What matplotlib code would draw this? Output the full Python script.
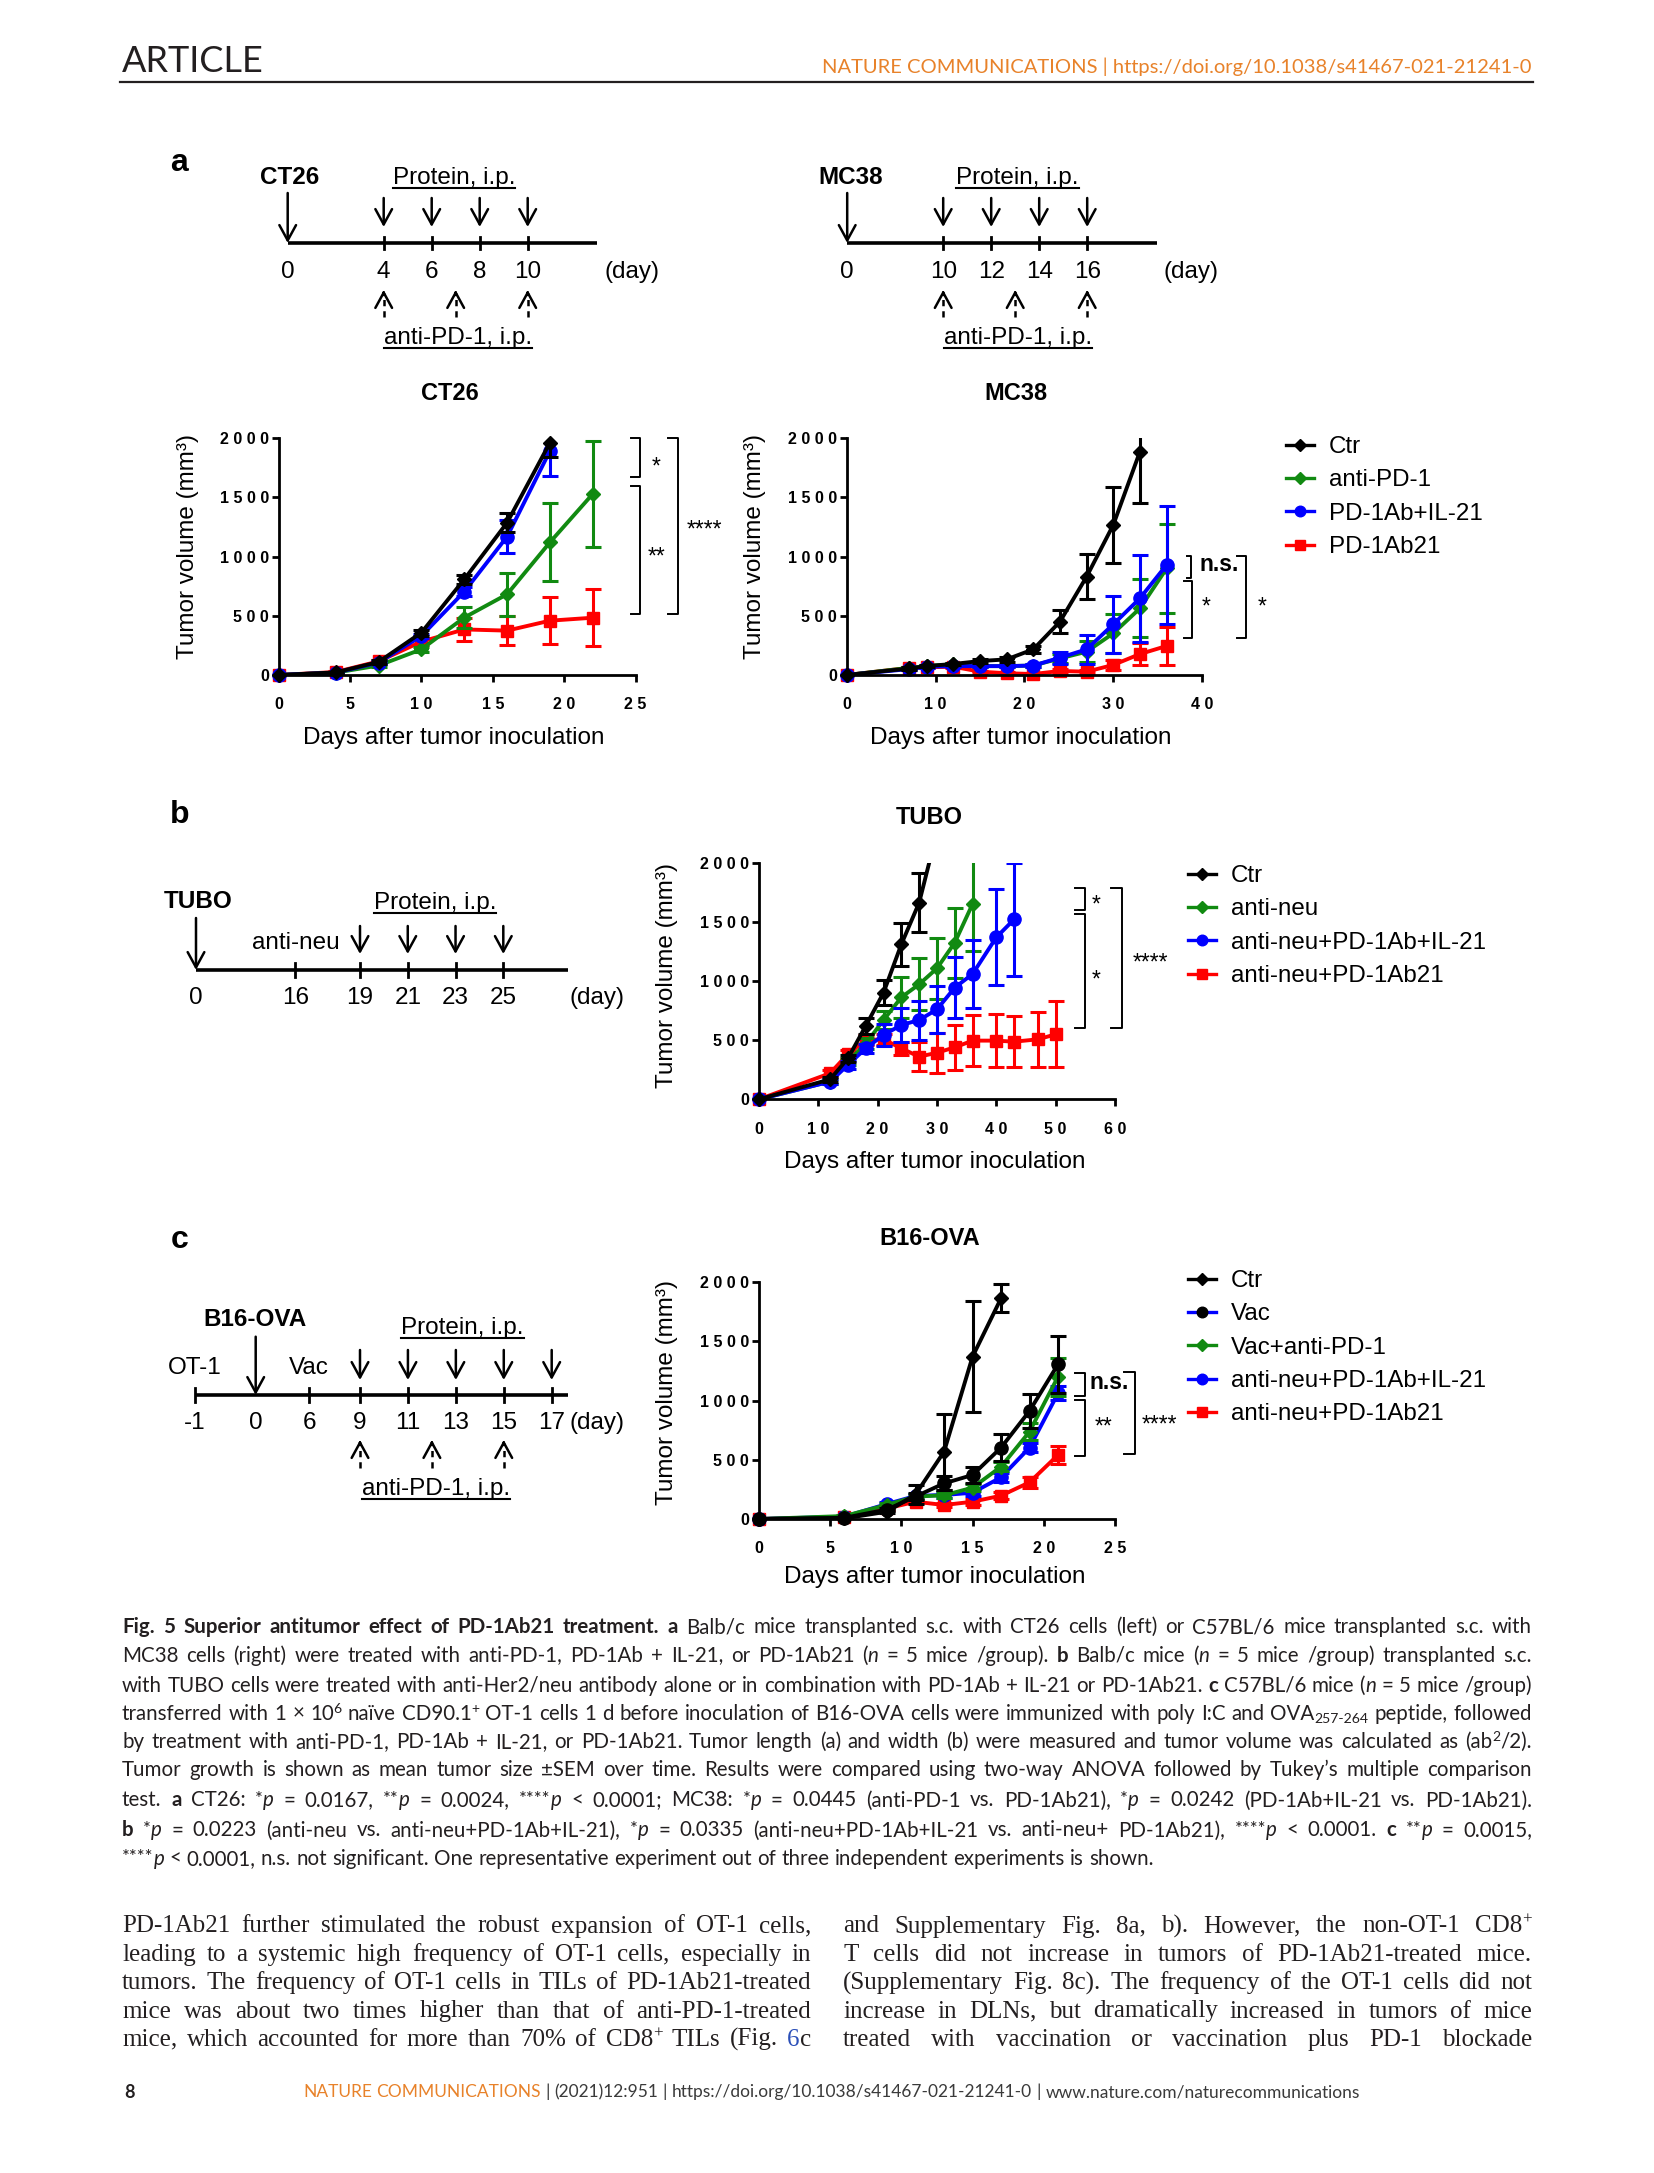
import matplotlib
matplotlib.use('Agg')
import matplotlib.pyplot as plt
from matplotlib.lines import Line2D
from matplotlib.ticker import FuncFormatter
import numpy as np

W, H = 1654, 2173
SANS = ['Liberation Sans', 'DejaVu Sans']
CAPTION = ['Lato', 'DejaVu Sans']
SERIF = ['Liberation Serif', 'DejaVu Serif']
plt.rcParams['font.family'] = SANS

BLACK, GREEN, BLUE, RED = 'black', '#118A11', '#0000FF', '#FF0000'
ORANGE = '#E8822A'
INK = '#231F20'

# ---------------- data (mean tumour volume, mm3, and SEM) ----------------
ct26_days = [0, 4, 7, 10, 13, 16, 19, 22]
ct26_ctr = [0, 22, 110, 358, 808, 1287, 1963]
ct26_ctr_sem = [0, 5, 15, 25, 40, 80, 125]
ct26_pd1 = [0, 20, 80, 217, 485, 682, 1121, 1530]
ct26_pd1_sem = [0, 5, 12, 20, 90, 180, 330, 450]
ct26_il21 = [0, 20, 105, 330, 704, 1169, 1893]
ct26_il21_sem = [0, 5, 12, 20, 40, 140, 210]
ct26_ab21 = [0, 25, 115, 282, 385, 375, 459, 484]
ct26_ab21_sem = [0, 5, 15, 25, 100, 125, 200, 240]

mc38_days = [0, 7, 9, 12, 15, 18, 21, 24, 27, 30, 33, 36]
mc38_ctr = [0, 55, 76, 93, 118, 132, 217, 451, 831, 1268, 1887]
mc38_ctr_sem = [0, 10, 10, 10, 15, 20, 30, 95, 190, 318, 430]
mc38_pd1 = [0, 60, 76, 90, 75, 75, 80, 140, 197, 352, 563, 900]
mc38_pd1_sem = [0, 10, 10, 10, 10, 10, 15, 40, 90, 165, 245, 375]
mc38_il21 = [0, 50, 70, 75, 75, 75, 80, 146, 217, 428, 648, 930]
mc38_il21_sem = [0, 10, 10, 10, 10, 10, 15, 50, 125, 240, 370, 495]
mc38_ab21 = [0, 60, 65, 70, 28, 15, 8, 34, 28, 85, 177, 245]
mc38_ab21_sem = [0, 10, 10, 10, 10, 10, 10, 15, 15, 40, 95, 160]

tubo_days = [0, 12, 15, 18, 21, 24, 27, 30, 33, 36, 40, 43, 47, 50]
tubo_ctr = [0, 169, 346, 620, 901, 1310, 1662, 2260]
tubo_ctr_sem = [0, 20, 30, 65, 105, 180, 250, 0]
tubo_neu = [0, 150, 320, 470, 670, 862, 972, 1107, 1324, 1651]
tubo_neu_sem = [0, 20, 30, 45, 75, 175, 220, 260, 295, 400]
tubo_il21 = [0, 149, 290, 431, 544, 628, 670, 760, 944, 1059, 1369, 1521]
tubo_il21_sem = [0, 20, 30, 40, 90, 145, 165, 200, 260, 285, 405, 480]
tubo_ab21 = [0, 220, 383, 501, 507, 431, 360, 394, 439, 496, 496, 487, 507, 549]
tubo_ab21_sem = [0, 25, 35, 45, 45, 55, 125, 170, 190, 215, 225, 215, 230, 280]

b16_days = [0, 6, 9, 11, 13, 15, 17, 19, 21]
b16_ctr = [0, 5, 62, 208, 569, 1372, 1865]
b16_ctr_sem = [0, 5, 15, 80, 320, 466, 120]
b16_vac = [0, 10, 80, 190, 301, 372, 603, 913, 1307]
b16_vac_sem = [0, 5, 15, 30, 60, 70, 115, 145, 240]
b16_vacpd1 = [0, 25, 120, 190, 200, 265, 442, 738, 1203]
b16_vacpd1_sem = [0, 5, 15, 25, 25, 30, 40, 70, 160]
b16_il21 = [0, 20, 127, 195, 203, 222, 352, 603, 1062]
b16_il21_sem = [0, 5, 15, 20, 25, 30, 40, 40, 60]
b16_ab21 = [0, 15, 90, 146, 118, 146, 197, 310, 541]
b16_ab21_sem = [0, 5, 10, 15, 20, 25, 30, 45, 78]

a_labels = ['Ctr', 'anti-PD-1', 'PD-1Ab+IL-21', 'PD-1Ab21']
b_labels = ['Ctr', 'anti-neu', 'anti-neu+PD-1Ab+IL-21', 'anti-neu+PD-1Ab21']
c_labels = ['Ctr', 'Vac', 'Vac+anti-PD-1', 'anti-neu+PD-1Ab+IL-21', 'anti-neu+PD-1Ab21']

# treatment schedules (days)
ct26_ticks = [0, 4, 6, 8, 10]
ct26_protein = [4, 6, 8, 10]
ct26_antipd1 = [4, 7, 10]
mc38_ticks = [0, 10, 12, 14, 16]
mc38_protein = [10, 12, 14, 16]
mc38_antipd1 = [10, 13, 16]
tubo_ticks = [0, 16, 19, 21, 23, 25]
tubo_protein = [19, 21, 23, 25]
b16_ticks = [-1, 0, 6, 9, 11, 13, 15, 17]
b16_protein = [9, 11, 13, 15, 17]
b16_antipd1 = [9, 12, 15]

# ---------------- figure / page ----------------
fig = plt.figure(figsize=(W / 100, H / 100), dpi=100, facecolor='white')
page = fig.add_axes([0, 0, 1, 1])
page.set_xlim(0, W)
page.set_ylim(H, 0)
page.axis('off')
renderer = fig.canvas.get_renderer()

FS = 17.5


def frac(ax, x, y):
    return ax.transAxes.inverted().transform(fig.transFigure.transform((x / W, 1 - y / H)))


def growth_axes(x0, x1, xmax, y0, y1, xstep):
    ax = fig.add_axes([x0 / W, 1 - y0 / H, (x1 - x0) / W, (y0 - y1) / H])
    ax.set_facecolor('none')
    ax.set_xlim(0, xmax)
    ax.set_ylim(0, 2000)
    for s in ('top', 'right'):
        ax.spines[s].set_visible(False)
    for s in ('left', 'bottom'):
        ax.spines[s].set_linewidth(2)
    ax.set_xticks(np.arange(0, xmax + 1, xstep))
    ax.set_yticks([0, 500, 1000, 1500, 2000])
    spaced = FuncFormatter(lambda v, p: ' '.join(f'{v:.0f}'))
    ax.xaxis.set_major_formatter(spaced)
    ax.yaxis.set_major_formatter(spaced)
    ax.tick_params(direction='out', length=5, width=2, labelsize=11.5)
    ax.tick_params(axis='x', pad=11)
    ax.tick_params(axis='y', pad=2)
    plt.setp(ax.get_xticklabels() + ax.get_yticklabels(), fontweight='bold')
    return ax


def labels(ax, title, tpos, xpos, ypos):
    ax.text(*frac(ax, *tpos), title, transform=ax.transAxes, ha='center', va='center',
            fontsize=17, fontweight='bold')
    ax.set_xlabel('Days after tumor inoculation', fontsize=FS, va='center')
    ax.xaxis.set_label_coords(*frac(ax, *xpos))
    ax.set_ylabel('Tumor volume (mm³)', fontsize=FS, va='center', ha='center')
    ax.yaxis.set_label_coords(*frac(ax, *ypos))


MS = {'D': 7.5, 'o': 9.5, 's': 8.5}


def draw_series(ax, days, vals, sem, color, marker, mcolor=None):
    d = days[:len(vals)]
    ax.errorbar(d, vals, yerr=sem, fmt='none', ecolor=color, elinewidth=2.2,
                capsize=5.5, capthick=2.2)
    ax.plot(d, vals, color=color, lw=2.8)
    ax.plot(d, vals, ls='none', marker=marker, ms=MS[marker], color=mcolor or color,
            markevery=[v <= 2000 for v in vals], clip_on=False)


def bracket(ax, xl, xr, ytop, ybot, label, xt, yt, ha='center', weight='normal', rise=0.58):
    ax.plot([xl, xr, xr, xl], [ytop, ytop, ybot, ybot], color='black', lw=1.4, clip_on=False)
    fs = 16.5
    ax.annotate(label, (xt, yt), xytext=(0, -rise * fs), textcoords='offset points',
                ha=ha, va='baseline', fontsize=fs, fontweight=weight, annotation_clip=False)


def legend_at(ax, entries, names, x, y):
    handles = [Line2D([0], [0], color=lc, lw=2.4, marker=m, ms=MS[m] * 0.8,
                      mfc=mc, mec=mc) for lc, m, mc in entries]
    ax.legend(handles, names, loc='upper left', bbox_to_anchor=(x / W, 1 - y / H),
              bbox_transform=fig.transFigure, frameon=False, fontsize=17.4, borderpad=0,
              borderaxespad=0, handlelength=1.17, handletextpad=0.62, labelspacing=0.47)


# ---------------- panel a: CT26 ----------------
ax = growth_axes(278.6, 635.6, 25, 675, 438.3, 5)
for vals, sem, c, m in [(ct26_ab21, ct26_ab21_sem, RED, 's'), (ct26_pd1, ct26_pd1_sem, GREEN, 'D'),
                        (ct26_il21, ct26_il21_sem, BLUE, 'o'), (ct26_ctr, ct26_ctr_sem, BLACK, 'D')]:
    draw_series(ax, ct26_days, vals, sem, c, m)
labels(ax, 'CT26', (449.7, 393), (453.9, 738.3), (187.6, 546.7))
bracket(ax, 24.65, 25.3, 2000, 1676, '*', 26.45, 1817)
bracket(ax, 24.65, 25.3, 1597, 513, '**', 26.5, 1056)
bracket(ax, 27.3, 28.0, 2000, 513, '****', 29.8, 1282)

# ---------------- panel a: MC38 ----------------
ax = growth_axes(846.8, 1202.1, 40, 675, 438.3, 10)
for vals, sem, c, m in [(mc38_ab21, mc38_ab21_sem, RED, 's'), (mc38_pd1, mc38_pd1_sem, GREEN, 'D'),
                        (mc38_il21, mc38_il21_sem, BLUE, 'o'), (mc38_ctr, mc38_ctr_sem, BLACK, 'D')]:
    draw_series(ax, mc38_days, vals, sem, c, m)
labels(ax, 'MC38', (1015.7, 393), (1021, 738.3), (755, 546.7))
bracket(ax, 38.3, 38.8, 1008, 822, 'n.s.', 39.7, 930, ha='left', weight='bold', rise=0.26)
bracket(ax, 38.0, 38.9, 794, 310, '*', 40.4, 634)
bracket(ax, 43.9, 44.9, 1008, 310, '*', 46.75, 634)
legend_at(ax, [(BLACK, 'D', BLACK), (GREEN, 'D', GREEN), (BLUE, 'o', BLUE), (RED, 's', RED)],
          a_labels, 1285.5, 436)

# ---------------- panel b: TUBO ----------------
ax = growth_axes(758.9, 1115, 60, 1099.3, 862.7, 10)
for vals, sem, c, m in [(tubo_ab21, tubo_ab21_sem, RED, 's'), (tubo_neu, tubo_neu_sem, GREEN, 'D'),
                        (tubo_il21, tubo_il21_sem, BLUE, 'o'), (tubo_ctr, tubo_ctr_sem, BLACK, 'D')]:
    draw_series(ax, tubo_days, vals, sem, c, m)
labels(ax, 'TUBO', (929, 818), (934.6, 1161.7), (666.8, 975))
bracket(ax, 53.2, 54.9, 1789, 1600, '*', 56.9, 1699)
bracket(ax, 53.2, 54.9, 1566, 600, '*', 56.9, 1065)
bracket(ax, 59.3, 61.1, 1789, 600, '****', 66.0, 1206)
legend_at(ax, [(BLACK, 'D', BLACK), (GREEN, 'D', GREEN), (BLUE, 'o', BLUE), (RED, 's', RED)],
          b_labels, 1187.5, 865)

# ---------------- panel c: B16-OVA ----------------
ax = growth_axes(758.9, 1115, 25, 1519, 1282.3, 5)
for vals, sem, c, m in [(b16_ab21, b16_ab21_sem, RED, 's'), (b16_il21, b16_il21_sem, BLUE, 'o'),
                        (b16_vacpd1, b16_vacpd1_sem, GREEN, 'D'), (b16_vac, b16_vac_sem, BLACK, 'o'),
                        (b16_ctr, b16_ctr_sem, BLACK, 'D')]:
    draw_series(ax, b16_days, vals, sem, c, m)
labels(ax, 'B16-OVA', (929.3, 1238.3), (934.6, 1576.7), (666.8, 1392.7))
bracket(ax, 22.2, 22.87, 1231, 1042, 'n.s.', 23.2, 1147, ha='left', weight='bold', rise=0.26)
bracket(ax, 22.2, 22.87, 1006, 532, '**', 24.17, 837)
bracket(ax, 25.6, 26.4, 1240, 546, '****', 28.1, 851)
legend_at(ax, [(BLACK, 'D', BLACK), (BLUE, 'o', BLACK), (GREEN, 'D', GREEN), (BLUE, 'o', BLUE),
               (RED, 's', RED)], c_labels, 1187.5, 1270)

# ---------------- treatment schematics ----------------
HEAD = dict(arrowstyle='->,head_length=0.55,head_width=0.3', lw=1.8, color='black',
            shrinkA=0, shrinkB=0, mutation_scale=20)


def arrow(x, y_tail, y_tip):
    page.annotate('', xy=(x, y_tip), xytext=(x, y_tail), arrowprops=HEAD)


def dashed_arrow(x, y_tail, y_tip):
    page.plot([x, x], [y_tail, y_tip + 3], color='black', lw=1.8, ls=(0, (2.5, 2)))
    page.annotate('', xy=(x, y_tip), xytext=(x, y_tip + 5), arrowprops=HEAD)


def underlined(x, y, s, dy=10):
    t = page.text(x, y, s, ha='center', va='center', fontsize=FS)
    bb = t.get_window_extent(renderer)
    inv = page.transData.inverted()
    x0 = inv.transform((bb.x0, bb.y0))[0]
    x1 = inv.transform((bb.x1, bb.y0))[0]
    page.plot([x0, x1], [y + dy, y + dy], color='black', lw=1.5)


def timeline(to_px, x_start, x_end, y, ticks, half, y_lab, x_day, skip_tick=()):
    page.plot([x_start, x_end], [y, y], color='black', lw=2.6, solid_capstyle='butt')
    for d in ticks:
        x = to_px(d)
        if d not in skip_tick:
            page.plot([x, x], [y - half, y + half], color='black', lw=2)
        page.text(x, y_lab, str(d), ha='center', va='center', fontsize=FS)
    page.text(x_day, y_lab, '(day)', ha='center', va='center', fontsize=FS)


# CT26
ct26_px = lambda d: np.interp(d, [0, 4, 10], [287.7, 383.7, 527.7])
timeline(ct26_px, 287.7, 596.6, 243.3, ct26_ticks, 6, 271.7, 631.7, skip_tick=(0,))
page.text(289.6, 178, 'CT26', ha='center', va='center', fontsize=FS, fontweight='bold')
arrow(ct26_px(0), 193, 243)
for d in ct26_protein:
    arrow(ct26_px(d), 198, 227)
for d in ct26_antipd1:
    dashed_arrow(ct26_px(d), 317, 290)
underlined(454, 178, 'Protein, i.p.')
underlined(458, 338, 'anti-PD-1, i.p.')

# MC38
mc38_px = lambda d: np.interp(d, [0, 10, 16], [847.2, 943.2, 1087.2])
timeline(mc38_px, 847.2, 1157, 243.3, mc38_ticks, 6, 271.7, 1191, skip_tick=(0,))
page.text(851, 178, 'MC38', ha='center', va='center', fontsize=FS, fontweight='bold')
arrow(mc38_px(0), 193, 243)
for d in mc38_protein:
    arrow(mc38_px(d), 198, 227)
for d in mc38_antipd1:
    dashed_arrow(mc38_px(d), 317, 290)
underlined(1017.3, 178, 'Protein, i.p.')
underlined(1018.3, 338, 'anti-PD-1, i.p.')

# TUBO
tubo_px = lambda d: np.interp(d, [0, 16, 19, 25], [196, 295.3, 360, 503.3])
timeline(tubo_px, 196, 567.7, 970, tubo_ticks, 7, 998.3, 596.7, skip_tick=(0,))
page.text(164, 901.7, 'TUBO', ha='left', va='center', fontsize=FS, fontweight='bold')
arrow(tubo_px(0), 918, 970)
for d in tubo_protein:
    arrow(tubo_px(d), 926, 954)
page.text(296, 943.3, 'anti-neu', ha='center', va='center', fontsize=FS)
underlined(435, 903.3, 'Protein, i.p.')

# B16-OVA
b16_px = lambda d: np.interp(d, [-1, 0, 6, 9, 17], [195, 255.7, 309.3, 360, 551.7])
timeline(b16_px, 195, 567.7, 1395, b16_ticks, 7, 1423.3, 596.7, skip_tick=(0,))
page.text(255, 1319.3, 'B16-OVA', ha='center', va='center', fontsize=FS, fontweight='bold')
arrow(b16_px(0), 1336.7, 1395)
for d in b16_protein:
    arrow(b16_px(d), 1350, 1380)
for d in b16_antipd1:
    dashed_arrow(b16_px(d), 1468, 1440)
page.text(195, 1367.7, 'OT-1', ha='center', va='center', fontsize=FS)
page.text(309.3, 1367.7, 'Vac', ha='center', va='center', fontsize=FS)
underlined(462.7, 1328.3, 'Protein, i.p.')
underlined(436, 1489.3, 'anti-PD-1, i.p.')

# panel letters
for letter, (x, y) in zip('abc', [(178.6, 163), (179.3, 815), (179.3, 1240)]):
    page.text(x, y, letter, ha='center', va='center', fontsize=23, fontweight='bold')

# ---------------- page furniture ----------------
page.text(122, 62, 'ARTICLE', ha='left', va='center', fontsize=26, family=CAPTION, color=INK)
page.text(1532, 67, 'NATURE COMMUNICATIONS | https://doi.org/10.1038/s41467-021-21241-0',
          ha='right', va='center', fontsize=14.5, family=CAPTION, color=ORANGE)
page.plot([120, 1533], [82, 82], color=INK, lw=1.6)

N = {}
B = {'weight': 'bold'}
I = {'style': 'italic'}
SUP = {'sup': True}
SUB = {'sub': True}


def text_line(x, y, runs, size, family, width=None, color=INK):
    words = [[]]
    for s, st in runs:
        for i, part in enumerate(s.split(' ')):
            if i:
                words.append([])
            if part:
                words[-1].append((part, st))
    words = [w for w in words if w]
    px = size * 100 / 72
    items = []
    for w in words:
        pieces, wx = [], 0
        for s, st in w:
            small = st.get('sup') or st.get('sub')
            stars = st.get('sup') and s.strip('*') == ''
            if stars:
                fs, dy = size * 0.9, -0.12 * px
            elif small:
                fs, dy = size * 0.68, (-0.34 * px if st.get('sup') else 0.18 * px)
            else:
                fs, dy = size, 0
            t = page.text(0, y + dy, s, fontsize=fs, family=family,
                          ha='left', va='baseline', fontweight=st.get('weight', 'normal'),
                          fontstyle=st.get('style', 'normal'), color=st.get('color', color))
            pieces.append((t, wx))
            wx += t.get_window_extent(renderer).width
        items.append((pieces, wx))
    probe = page.text(0, 0, 'a a', fontsize=size, family=family)
    probe2 = page.text(0, 0, 'aa', fontsize=size, family=family)
    sp = probe.get_window_extent(renderer).width - probe2.get_window_extent(renderer).width
    probe.remove()
    probe2.remove()
    total = sum(w for _, w in items)
    gap = sp if width is None else max((width - total) / max(len(items) - 1, 1), 0.5 * sp)
    cx = x
    for pieces, ww in items:
        for t, off in pieces:
            t.set_x(cx + off)
        cx += ww + gap


caption = [
    [('Fig. 5 Superior antitumor effect of PD-1Ab21 treatment. a', B),
     (' Balb/c mice transplanted s.c. with CT26 cells (left) or C57BL/6 mice transplanted s.c. with', N)],
    [('MC38 cells (right) were treated with anti-PD-1, PD-1Ab + IL-21, or PD-1Ab21 (', N), ('n', I),
     (' = 5 mice /group). ', N), ('b', B), (' Balb/c mice (', N), ('n', I),
     (' = 5 mice /group) transplanted s.c.', N)],
    [('with TUBO cells were treated with anti-Her2/neu antibody alone or in combination with '
      'PD-1Ab + IL-21 or PD-1Ab21. ', N), ('c', B), (' C57BL/6 mice (', N), ('n', I),
     (' = 5 mice /group)', N)],
    [('transferred with 1 × 10', N), ('6', SUP), (' naïve CD90.1', N), ('+', SUP),
     (' OT-1 cells 1 d before inoculation of B16-OVA cells were immunized with poly I:C and OVA', N),
     ('257-264', SUB), (' peptide, followed', N)],
    [('by treatment with anti-PD-1, PD-1Ab + IL-21, or PD-1Ab21. Tumor length (a) and width (b) were '
      'measured and tumor volume was calculated as (ab', N), ('2', SUP), ('/2).', N)],
    [('Tumor growth is shown as mean tumor size ±SEM over time. Results were compared using two-way '
      'ANOVA followed by Tukey’s multiple comparison', N)],
    [('test. ', N), ('a', B), (' CT26: ', N), ('*', SUP), ('p', I), (' = 0.0167, ', N), ('**', SUP),
     ('p', I), (' = 0.0024, ', N), ('****', SUP), ('p', I), (' < 0.0001; MC38: ', N), ('*', SUP),
     ('p', I), (' = 0.0445 (anti-PD-1 vs. PD-1Ab21), ', N), ('*', SUP), ('p', I),
     (' = 0.0242 (PD-1Ab+IL-21 vs. PD-1Ab21).', N)],
    [('b', B), (' ', N), ('*', SUP), ('p', I), (' = 0.0223 (anti-neu vs. anti-neu+PD-1Ab+IL-21), ', N),
     ('*', SUP), ('p', I), (' = 0.0335 (anti-neu+PD-1Ab+IL-21 vs. anti-neu+ PD-1Ab21), ', N),
     ('****', SUP), ('p', I), (' < 0.0001. ', N), ('c', B), (' ', N), ('**', SUP), ('p', I),
     (' = 0.0015,', N)],
    [('****', SUP), ('p', I), (' < 0.0001, n.s. not significant. One representative experiment out '
                               'of three independent experiments is shown.', N)],
]
cap_y = [1626.7, 1655, 1685, 1713, 1741.7, 1770, 1800, 1830, 1858.3]
for i, (runs, y) in enumerate(zip(caption, cap_y)):
    text_line(122, y + 6.5, runs, 14.8, CAPTION, width=None if i == len(caption) - 1 else 1410)

body_left = [
    [('PD-1Ab21 further stimulated the robust expansion of OT-1 cells,', N)],
    [('leading to a systemic high frequency of OT-1 cells, especially in', N)],
    [('tumors. The frequency of OT-1 cells in TILs of PD-1Ab21-treated', N)],
    [('mice was about two times higher than that of anti-PD-1-treated', N)],
    [('mice, which accounted for more than 70% of CD8', N), ('+', SUP), (' TILs (Fig. ', N),
     ('6', {'color': '#2B4FB8'}), ('c', N)],
]
body_right = [
    [('and Supplementary Fig. 8a, b). However, the non-OT-1 CD8', N), ('+', SUP)],
    [('T cells did not increase in tumors of PD-1Ab21-treated mice.', N)],
    [('(Supplementary Fig. 8c). The frequency of the OT-1 cells did not', N)],
    [('increase in DLNs, but dramatically increased in tumors of mice', N)],
    [('treated with vaccination or vaccination plus PD-1 blockade', N)],
]
body_y = [1925, 1953.3, 1981.7, 2010, 2038.3]
for runs, y in zip(body_left, body_y):
    text_line(122, y + 7.5, runs, 18, SERIF, width=689)
for runs, y in zip(body_right, body_y):
    text_line(843, y + 7.5, runs, 18, SERIF, width=689)

page.text(124, 2092, '8', ha='left', va='center', fontsize=13, fontweight='bold', family=CAPTION,
          color=INK)
text_line(303, 2097, [('NATURE COMMUNICATIONS', {'color': ORANGE}),
                      (' | (2021)12:951 | https://doi.org/10.1038/s41467-021-21241-0 | '
                       'www.nature.com/naturecommunications', N)], 12.5, CAPTION, color='#3A3A3A')

fig.savefig('out.png', dpi=100, facecolor='white')
